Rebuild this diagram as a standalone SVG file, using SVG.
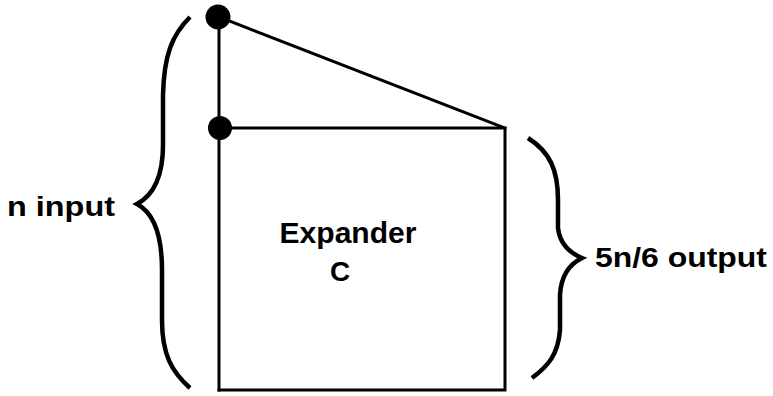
<svg xmlns="http://www.w3.org/2000/svg" width="773" height="396" viewBox="0 0 773 396">
<style>
.ln{stroke:#000;stroke-width:3;fill:none;stroke-linecap:square}
.br{stroke:#000;stroke-width:4.5;fill:none;stroke-linecap:butt}
.t{font-family:"Liberation Sans",Arial,sans-serif;font-weight:bold;fill:#000}
</style>
<rect width="773" height="396" fill="#fff"/>
<g id="connectors">
<line class="ln" x1="219" y1="17" x2="219" y2="390"/>
<line class="ln" x1="219" y1="17" x2="505" y2="128"/>
</g>
<g id="expander">
<polyline class="ln" points="220,128 505,128 505,390 219,390"/>
<text class="t" x="348" y="243" text-anchor="middle" font-size="29" textLength="137" lengthAdjust="spacingAndGlyphs">Expander</text>
<text class="t" x="340" y="281" text-anchor="middle" font-size="28">C</text>
</g>
<g id="dot-top"><circle cx="218" cy="17" r="12.5"/></g>
<g id="dot-mid"><circle cx="220" cy="128" r="12"/></g>
<g id="brace-left">
<path class="br" d="M190,17 C172,35 164,55 163,95 L163,145 C163,180 152,196 137,204 C152,212 162,230 162,270 L162,320 C162,355 172,372 190,388"/>
<text class="t" x="7" y="216" font-size="28" textLength="108" lengthAdjust="spacingAndGlyphs">n input</text>
</g>
<g id="brace-right">
<path class="br" d="M528,138 C550,152 558,170 558,200 L558,228 C560,245 570,253 582,258 C570,264 561,275 560,295 L560,330 C558,355 548,366 532,378"/>
<text class="t" x="595" y="267" font-size="28" textLength="172" lengthAdjust="spacingAndGlyphs">5n/6 output</text>
</g>
</svg>
